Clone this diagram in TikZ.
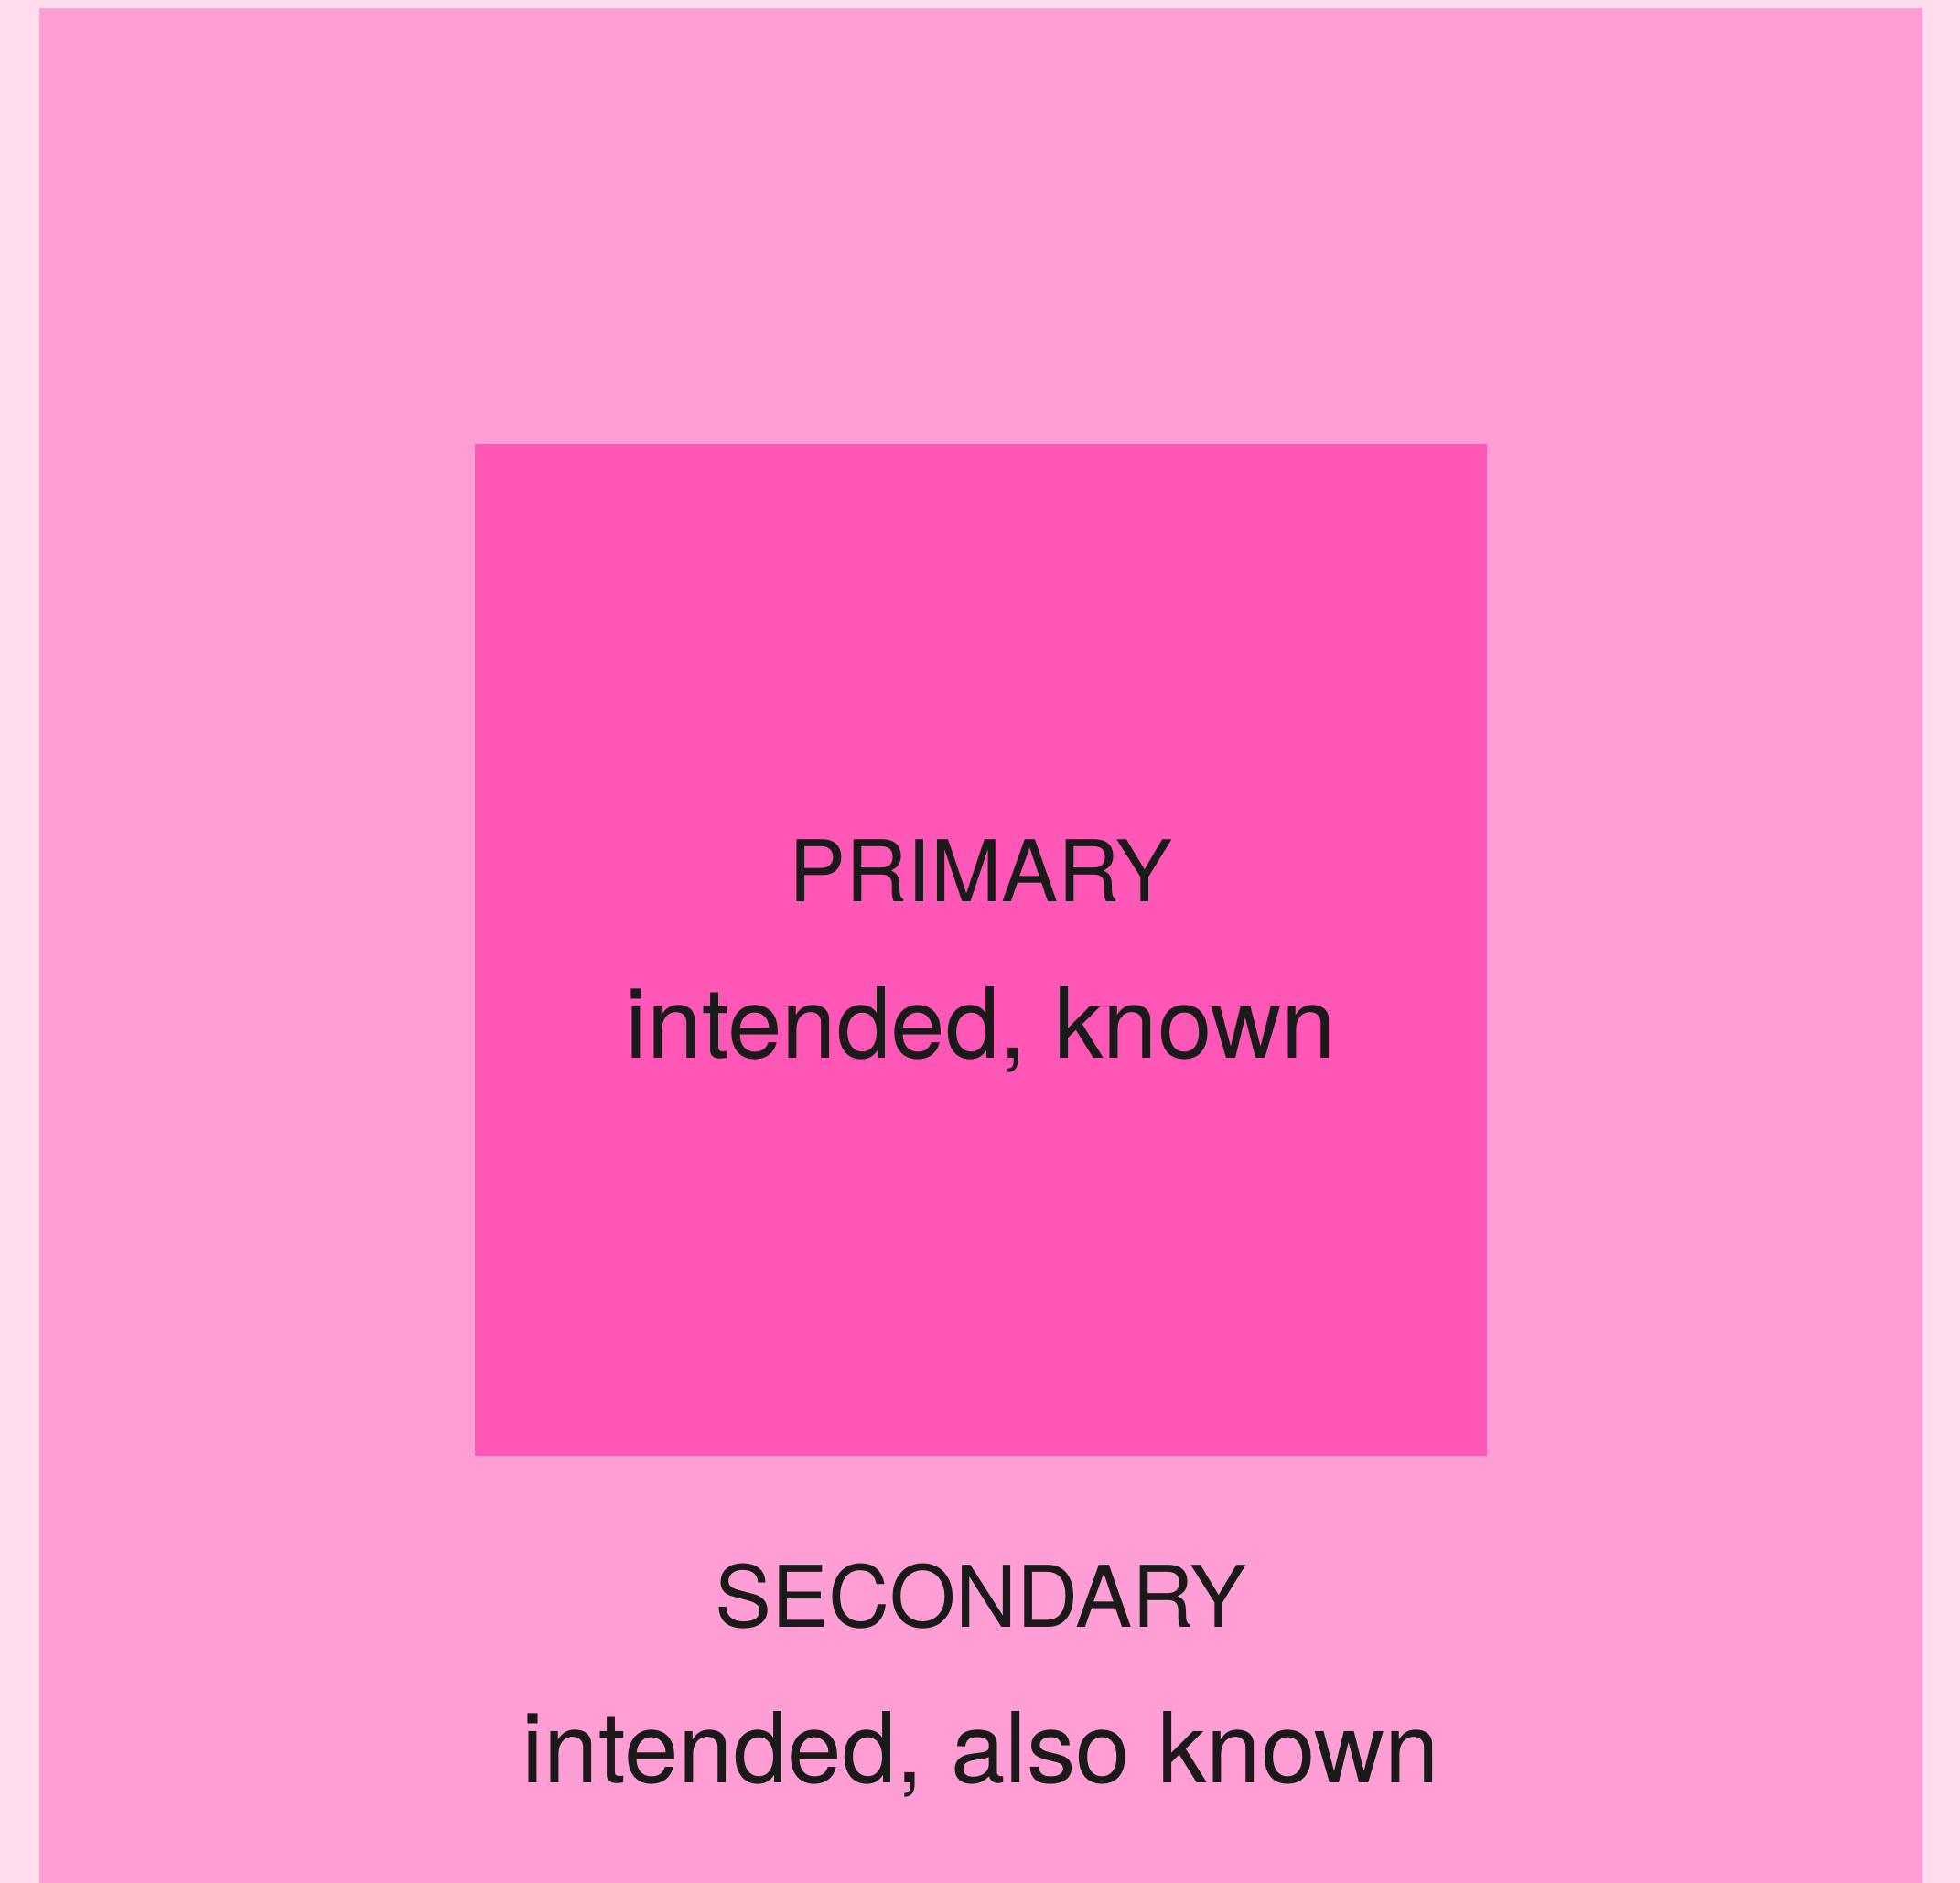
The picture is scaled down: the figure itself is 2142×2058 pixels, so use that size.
\documentclass[tikz,border=0pt]{standalone}
\usepackage{fontspec}
\setmainfont{TeX Gyre Heros}
\definecolor{bgpink}{HTML}{FFDCEE}
\definecolor{midpink}{HTML}{FF9ED4}
\definecolor{darkpink}{HTML}{FF57B6}
\definecolor{ink}{HTML}{1A1A1A}
\begin{document}
\begin{tikzpicture}[x=1pt,y=-1pt,
  box/.style={inner sep=0pt, outer sep=0pt, anchor=north west},
  title/.style={text=ink, inner sep=0pt, anchor=base, font=\fontsize{93}{100}\selectfont},
  sub/.style={text=ink, inner sep=0pt, anchor=base, font=\fontsize{107}{115}\selectfont}]
\fill[bgpink] (0,0) rectangle (2142,2058);
\useasboundingbox (0,0) rectangle (2142,2058);
\node[box, fill=midpink, minimum width=2058pt, minimum height=2049pt] (secondary) at (43,9) {};
\node[box, fill=darkpink, minimum width=1106pt, minimum height=1106pt] (primary) at (519,485) {};
\node[title] (ptitle) at (1072,985) {PRIMARY};
\node[sub] (psub) at (1072,1156) {intended, known};
\node[title] (stitle) at (1072,1778) {SECONDARY};
\node[sub] (ssub) at (1072,1948) {intended, also known};
\end{tikzpicture}
\end{document}
